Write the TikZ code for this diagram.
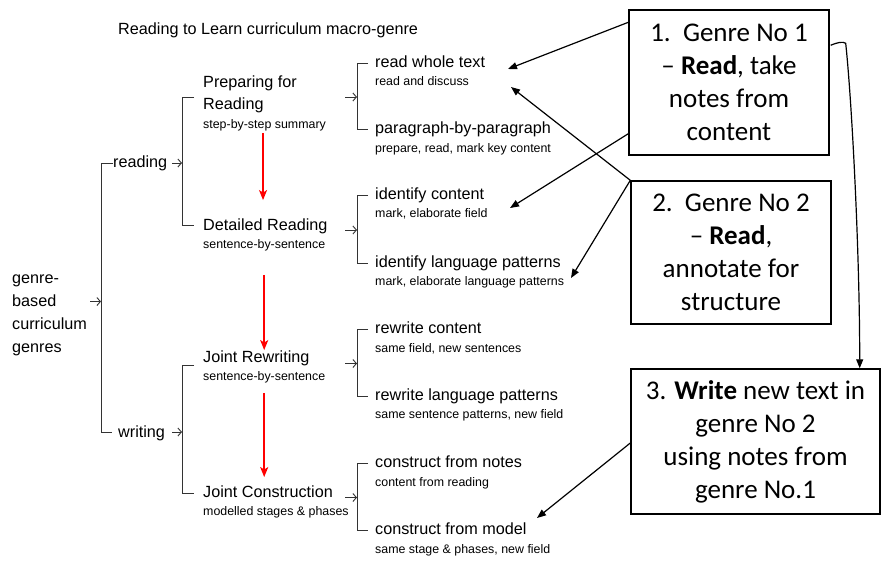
\documentclass[tikz,border=0pt]{standalone}
\usepackage{fontspec}
\setmainfont{Liberation Sans}
\newfontfamily\boxfont{Carlito}
\usetikzlibrary{arrows.meta,calc}
\begin{document}
\begin{tikzpicture}[x=1pt,y=-1pt,
  lbl/.style={anchor=base west,inner sep=0pt,font=\fontsize{16.2}{22}\selectfont},
  sub/.style={anchor=base west,inner sep=0pt,font=\fontsize{12.4}{15}\selectfont},
  brk/.style={draw=black!80,line width=0.9pt},
  into/.style={brk,-{Straight Barb[length=3.5pt,width=8pt]}},
  stage/.style={draw=red,line width=1.6pt,-{Stealth[length=10pt,width=8pt,inset=2.5pt]}},
  gbox/.style={draw=black,line width=1.4pt,align=center,inner sep=0pt,
    font=\boxfont\fontsize{27}{33}\selectfont},
  note/.style={draw=black,line width=1.2pt,-{Triangle[length=9pt,width=7pt]}}
]
\fill[white] (0,0) rectangle (883,560);
\path[use as bounding box] (0,0) rectangle (883,560);

% title
\node[lbl] (title) at (118,34) {Reading to Learn curriculum macro-genre};

% left column (multi-line nodes sit on the baseline of their last line)
\node[lbl,align=left,font=\fontsize{16.2}{23}\selectfont] (gb) at (12,352) {genre-\\based\\curriculum\\genres};
\node[lbl] (rd) at (113,167) {reading};
\node[lbl] (wr) at (118,437) {writing};

% stages
\node[lbl,align=left] (prep) at (203,109) {Preparing for\\Reading};
\node[sub] (prep-s) at (203,128) {step-by-step summary};
\node[lbl] (det) at (203,230) {Detailed Reading};
\node[sub] (det-s) at (203,248) {sentence-by-sentence};
\node[lbl] (jr) at (203,362) {Joint Rewriting};
\node[sub] (jr-s) at (203,380) {sentence-by-sentence};
\node[lbl] (jc) at (203,497) {Joint Construction};
\node[sub] (jc-s) at (203,515) {modelled stages \& phases};

% activities
\node[lbl] (rwt) at (375,67) {read whole text};
\node[sub] (rwt-s) at (375,85) {read and discuss};
\node[lbl] (pbp) at (375,133) {paragraph-by-paragraph};
\node[sub] (pbp-s) at (375,152) {prepare, read, mark key content};
\node[lbl] (ic) at (375,199) {identify content};
\node[sub] (ic-s) at (375,217) {mark, elaborate field};
\node[lbl] (il) at (375,267) {identify language patterns};
\node[sub] (il-s) at (375,285) {mark, elaborate language patterns};
\node[lbl] (rc) at (375,333) {rewrite content};
\node[sub] (rc-s) at (375,352) {same field, new sentences};
\node[lbl] (rl) at (375,400) {rewrite language patterns};
\node[sub] (rl-s) at (375,418) {same sentence patterns, new field};
\node[lbl] (cn) at (375,467) {construct from notes};
\node[sub] (cn-s) at (375,486) {content from reading};
\node[lbl] (cm) at (375,534) {construct from model};
\node[sub] (cm-s) at (375,553) {same stage \& phases, new field};

% top-level bracket
\draw[brk] ($(rd.base west)+(0,-4)$) -- ++(-12,0) coordinate (j0t)
  -- ($(wr.base west)+(-17,-5)$) coordinate (j0b) -- ++(11,0);
\coordinate (j0) at ($(j0t)!0.515!(j0b)$);
\draw[into] ($(j0)+(-11,0)$) -- (j0);

% reading / writing brackets
\draw[brk] ($(prep.base west)+(-9,-12)$) -- ++(-12,0) coordinate (j1t)
  |- ($(det.base west)+(-9,-5)$);
\coordinate (j1) at (j1t |- rd.base);
\draw[into] ($(j1)+(-10,-4)$) -- ($(j1)+(0,-4)$);
\draw[brk] ($(jr.base west)+(-9,3)$) -- ++(-12,0) coordinate (j2t)
  |- ($(jc.base west)+(-9,-4)$);
\coordinate (j2) at (j2t |- wr.base);
\draw[into] ($(j2)+(-10,-5)$) -- ($(j2)+(0,-5)$);

% activity brackets
\foreach \a/\b/\s in {rwt/pbp/prep,ic/il/det,rc/rl/jr,cn/cm/jc}{
  \draw[brk] ($(\a.base west)+(-7,-4)$) -| ($(\b.base west)+(-18,-4)$) -- ++(11,0);
  \coordinate (k-\s) at ($($(\a.base west)!0.5!(\b.base west)$)+(-18,-4)$);
  \draw[into] ($(k-\s)+(-12,1)$) -- ($(k-\s)+(0,1)$);
}

% stage sequence
\draw[stage] ($(prep-s.south)+(-1.5,2)$) -- ($(prep-s.south |- det.north)+(-1.5,-18)$);
\draw[stage] ($(det-s.south)+(0,24)$) -- ($(det-s.south |- jr.north)+(0,0)$);
\draw[stage] ($(jr-s.south)+(0,10)$) -- ($(jr-s.south |- jc.north)+(0,-8)$);

% genre boxes
\node[gbox,minimum width=200pt,minimum height=145pt] (b1) at (729,82.5)
  {1.\ \ Genre No 1\\– \textbf{Read}, take\\notes from\\content};
\node[gbox,minimum width=200pt,minimum height=143pt] (b2) at (731,252.5)
  {2.\ \ Genre No 2\\– \textbf{Read},\\annotate for\\structure};
\node[gbox,minimum width=249pt,minimum height=145pt] (b3) at (755.5,441.5)
  {3. \textbf{Write} new text in\\genre No 2\\using notes from\\genre No.1};

% targets of the notes
\coordinate (t-rwt1) at (508,69);
\coordinate (t-rwt2) at (511,87);
\coordinate (t-ic) at (510,208);
\coordinate (t-il) at (571,278);
\coordinate (t-cm) at (537,518);

\draw[note] ($(b1.north west)+(0,13)$) -- (t-rwt1);
\draw[note] ($(b1.south west)+(0,-22)$) -- (t-ic);
\draw[note] (b2.north west) -- (t-rwt2);
\draw[note] (b2.north west) -- (t-il);
\draw[note] ($(b3.west)+(0,1.5)$) -- (t-cm);
\draw[note] ($(b1.north east)+(1,36)$) .. controls +(7,-3) and +(-3,-2) .. ++(15,-2)
  .. controls +(6,56) and +(0,-119) .. ($(b3.north east)+(-21,0)$);
\end{tikzpicture}
\end{document}
